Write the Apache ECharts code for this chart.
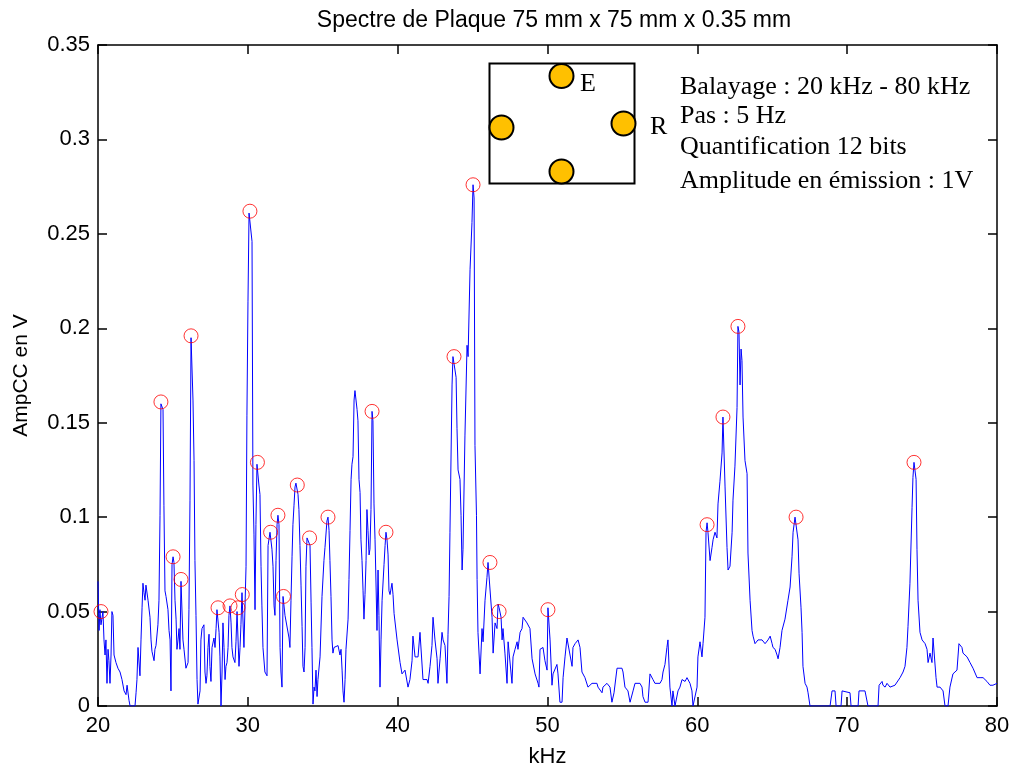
<!DOCTYPE html>
<html><head><meta charset="utf-8">
<script src="https://cdn.jsdelivr.net/npm/echarts@6/dist/echarts.min.js"></script>
<style>html,body{margin:0;padding:0;background:#fff}#c{width:1013px;height:769px}</style>
</head><body><div id="c"></div>
<script>
// ---- data (kHz, V) ----
const freqKHz = [
20.00,20.07,20.13,20.20,20.33,20.40,20.47,20.53,20.60,20.67,20.73,20.80,20.87,20.93,21.00,21.07,21.20,21.33,21.47,21.60,21.74,21.87,21.94,22.07,22.14,22.47,22.54,22.60,22.67,22.74,22.80,22.87,22.94,23.00,23.07,23.14,23.20,23.34,23.47,23.54,23.60,23.74,23.80,23.87,24.00,24.07,24.14,24.20,24.27,24.34,24.40,24.47,24.54,24.67,24.74,24.81,24.87,24.94,25.01,25.07,25.14,25.21,25.27,25.34,25.41,25.47,25.54,25.61,25.67,25.74,25.87,26.01,26.07,26.14,26.21,26.27,26.34,26.41,26.47,26.54,26.61,26.67,26.74,26.81,26.87,26.94,27.07,
27.14,27.21,27.27,27.34,27.41,27.47,27.54,27.61,27.74,27.81,27.88,27.94,28.01,28.08,28.14,28.21,28.28,28.34,28.41,28.48,28.54,28.61,28.68,28.74,28.81,28.88,28.94,29.01,29.14,29.21,29.28,29.34,29.41,29.48,29.54,29.61,29.68,29.74,29.81,29.88,29.94,30.01,30.08,30.14,30.21,30.28,30.34,30.41,30.48,30.54,30.61,30.68,30.74,30.81,30.88,30.94,31.01,31.14,31.28,31.35,31.48,31.55,31.61,31.68,31.75,31.81,31.88,31.95,32.01,32.08,32.15,32.21,32.28,32.35,32.41,32.48,32.61,32.75,32.81,32.88,32.95,33.01,33.08,33.15,33.21,33.28,33.35,33.41,33.48,33.55,33.62,33.68,33.75,33.82,33.88,33.95,34.08,34.15,34.22,34.28,34.35,34.42,
34.48,34.55,34.62,34.68,34.82,34.95,35.08,35.15,35.28,35.35,35.42,35.48,35.55,35.62,35.68,35.75,35.88,36.02,36.15,36.22,36.29,36.35,36.42,36.49,36.55,36.69,36.75,36.82,36.89,36.95,37.02,37.09,37.15,37.22,37.29,37.35,37.42,37.49,37.55,37.62,37.69,37.75,37.82,37.89,37.95,38.02,38.09,38.15,38.22,38.29,38.35,38.42,38.49,38.56,38.62,38.69,38.75,38.82,38.89,38.96,39.09,39.16,39.22,39.29,39.36,39.42,39.49,39.62,39.69,39.76,39.89,39.96,40.16,40.29,40.49,40.69,40.82,40.96,41.02,41.16,41.36,41.49,41.62,41.69,41.96,42.03,
42.16,42.29,42.36,42.49,42.63,42.69,42.83,42.96,43.03,43.16,43.29,43.36,43.43,43.49,43.63,43.69,43.76,43.90,43.96,44.03,44.16,44.23,44.30,44.36,44.49,44.63,44.70,44.83,44.96,45.03,45.10,45.16,45.26,45.30,45.36,45.50,45.63,45.70,45.83,45.96,46.03,46.16,46.30,46.37,46.50,46.63,46.70,46.77,46.90,46.97,47.03,47.16,47.30,47.37,47.50,47.63,47.70,47.83,47.97,48.03,48.17,48.30,48.37,48.63,48.83,48.97,49.17,49.37,
49.43,49.50,49.70,49.83,49.97,50.03,50.17,50.30,50.37,50.63,50.70,50.83,50.97,51.04,51.17,51.30,51.37,51.64,51.70,51.84,52.04,52.17,52.30,52.50,52.70,52.97,53.30,53.37,53.64,53.70,53.97,54.17,54.30,54.44,54.64,54.97,55.04,55.17,55.37,55.51,55.64,55.71,55.84,56.17,56.31,56.37,56.51,56.71,56.84,56.97,57.04,57.17,57.51,57.64,57.71,57.84,57.97,58.04,58.17,58.31,58.37,58.51,58.64,58.71,58.84,58.98,59.04,59.18,59.31,59.38,59.51,59.64,59.71,59.84,59.98,
60.04,60.18,60.31,60.38,60.51,60.58,60.65,60.71,60.85,60.98,61.05,61.18,61.31,61.38,61.51,61.65,61.71,61.85,61.98,62.05,62.18,62.32,62.38,62.51,62.65,62.71,62.78,62.85,62.92,62.98,63.05,63.18,63.32,63.38,63.52,63.65,63.72,63.85,64.05,64.32,64.52,64.72,64.86,64.99,65.05,65.19,65.32,65.39,65.52,65.65,65.85,66.05,66.19,66.32,66.39,66.52,66.59,66.72,66.79,66.92,66.99,67.05,67.19,67.32,67.39,67.52,
68.86,68.99,69.19,69.26,69.59,69.66,70.19,70.26,70.73,70.79,71.19,71.39,72.06,72.13,72.33,72.39,72.53,72.66,72.86,73.19,73.53,73.73,73.86,73.99,74.06,74.19,74.33,74.39,74.46,74.60,74.66,74.73,74.86,75.00,75.20,75.33,75.40,75.53,75.66,75.73,75.86,75.93,76.00,76.20,76.40,76.53,76.73,76.86,77.06,77.33,77.46,77.66,77.73,78.00,78.20,78.40,78.67,78.87,79.07,79.33,79.53,79.73,80.00
];
const ampV = [
.066,.040,.051,.043,.050,.035,.027,.035,.012,.030,.024,.012,.027,.050,.048,.027,.023,.020,.018,.014,.008,.006,.011,.003,0,0,.007,.014,.031,.030,.016,.035,.052,.065,.060,.056,.064,.056,.047,.035,.029,.024,.030,.032,.043,.056,.101,.160,.161,.157,.106,.061,.058,.051,.040,.035,.008,.075,.079,.076,.056,.046,.030,.035,.041,.030,.066,.065,.035,.030,.020,.023,.051,.109,.195,.196,.162,.130,.077,.048,.014,.001,0,.008,.035,.041,.043,
.018,.012,.016,.031,.038,.021,.013,.031,.036,.031,.041,.051,.052,.039,.026,0,.018,.044,.031,.014,.021,.023,.031,.048,.053,.044,.031,.026,.023,.034,.050,.051,.021,.031,.043,.060,.059,.031,.031,.074,.154,.214,.261,.262,.260,.246,.117,.091,.051,.096,.128,.129,.117,.112,.074,.053,.031,.018,.016,.085,.092,.092,.083,.074,.053,.048,.077,.096,.101,.096,.031,.018,.010,.058,.058,.048,.047,.036,.031,.056,.079,.096,.106,.116,.118,.118,.112,.104,.085,.064,.042,.021,.018,.031,.074,.089,.089,.085,.055,.031,.001,.010,
.008,.019,.005,.014,.026,.058,.077,.084,.098,.100,.093,.077,.058,.035,.028,.031,.030,.032,.027,.030,.019,.008,.002,.014,.030,.046,.067,.093,.120,.128,.132,.162,.167,.167,.157,.151,.120,.113,.088,.077,.061,.046,.059,.077,.104,.093,.080,.083,.104,.156,.151,.107,.088,.063,.040,.072,.048,.010,.035,.056,.075,.085,.092,.088,.080,.061,.059,.065,.059,.049,.049,.035,.023,.017,.019,.010,.014,.024,.037,.026,.026,.039,.039,.014,.014,.012,
.021,.032,.047,.035,.025,.012,.025,.039,.035,.032,.012,.038,.058,.092,.170,.185,.185,.174,.147,.125,.120,.101,.072,.083,.143,.191,.185,.231,.256,.276,.269,.138,.101,.067,.039,.017,.041,.034,.056,.068,.076,.076,.047,.028,.044,.041,.054,.052,.047,.035,.041,.028,.012,.034,.034,.012,.026,.030,.034,.030,.039,.041,.047,.044,.041,.025,.017,.012,
.010,.030,.031,.024,.019,.052,.035,.011,.017,.022,.017,.002,.002,.015,.026,.036,.035,.021,.031,.033,.035,.031,.018,.015,.010,.012,.012,.010,.007,.010,.012,.010,.002,.007,.020,.020,.018,.010,.008,.002,.002,.008,.012,.012,.010,.005,.002,.002,.017,.018,.014,.012,.012,.014,.018,.022,.031,.035,.010,0,.008,0,0,.008,.010,.014,.015,.013,.015,.014,.012,.008,0,0,.010,
.026,.034,.026,.033,.047,.092,.097,.092,.077,.084,.088,.092,.089,.107,.119,.134,.153,.116,.084,.072,.074,.092,.109,.127,.158,.201,.198,.170,.189,.183,.153,.130,.123,.081,.056,.040,.037,.033,.035,.035,.033,.035,.037,.033,.031,.030,.027,.025,.031,.040,.046,.056,.063,.079,.092,.100,.100,.088,.070,.052,.039,.021,.012,.010,.007,0,
0,.008,.008,0,0,.008,.007,0,0,.008,.008,0,0,.011,.013,.011,.010,.012,.010,.011,.015,.018,.021,.031,.042,.065,.105,.121,.129,.120,.083,.056,.039,.035,.033,.030,.023,.028,.023,.036,.036,.015,.010,.010,.008,0,0,.010,.017,.019,.033,.031,.028,.026,.023,.020,.015,.015,.015,.013,.011,.011,.012
];
const peakKHz = [20.20,24.20,25.01,25.54,26.21,28.01,28.81,29.34,29.63,30.14,30.64,31.52,32.01,32.38,33.30,34.12,35.35,38.29,39.22,43.76,45.03,46.16,46.77,50.03,60.65,61.71,62.71,66.59,74.46];
const peakV   = [0.050,0.161,0.079,0.067,0.196,0.052,0.053,0.052,0.059,0.262,0.129,0.092,0.101,0.058,0.117,0.089,0.100,0.156,0.092,0.185,0.276,0.076,0.050,0.051,0.096,0.153,0.201,0.100,0.129];
const xRange = [20, 80], xStep = 10;
const yRange = [0, 0.35], yStep = 0.05;
const titleText = 'Spectre de Plaque 75 mm x 75 mm x 0.35 mm';
const xName = 'kHz', yName = 'AmpCC en V';
const infoLines = ['Balayage : 20 kHz - 80 kHz', 'Pas : 5 Hz', 'Quantification 12 bits', 'Amplitude en émission : 1V'];
const sensorLabels = ['E', 'R'];

// ---- chart ----
const chart = echarts.init(document.getElementById('c'), null, {renderer: 'canvas'});
const lineData = freqKHz.map((f, i) => [f, ampV[i]]);
const peakData = peakKHz.map((f, i) => [f, peakV[i]]);
const sans = 'Liberation Sans, Arial, Helvetica, sans-serif';
const serif = 'Liberation Serif, Times New Roman, serif';
const axCommon = {
  type: 'value', min: xRange[0], max: xRange[1], interval: xStep,
  axisLine: {show: true, onZero: false, lineStyle: {color: '#000', width: 1.5}},
  axisTick: {show: true, inside: true, length: 9, lineStyle: {color: '#000', width: 1.5}},
  splitLine: {show: false}
};
const yCommon = {
  type: 'value', min: yRange[0], max: yRange[1], interval: yStep,
  axisLine: {show: true, onZero: false, lineStyle: {color: '#000', width: 1.5}},
  axisTick: {show: true, inside: true, length: 9, lineStyle: {color: '#000', width: 1.5}},
  splitLine: {show: false}
};
const circ = (cx, cy) => ({type: 'circle', silent: true, shape: {cx: cx, cy: cy, r: 12},
  style: {fill: '#FFC000', stroke: '#000', lineWidth: 2}, z: 10});
const graphics = [
  {type: 'rect', silent: true, shape: {x: 489.5, y: 63.5, width: 145, height: 120}, style: {fill: '#fff', stroke: '#000', lineWidth: 2}, z: 9},
  circ(561.5, 76), circ(501.5, 127.5), circ(623.5, 123.5), circ(561.5, 171.5),
  {type: 'text', silent: true, z: 11, x: 580, y: 84, style: {text: sensorLabels[0], fill: '#000', font: '26px ' + serif, verticalAlign: 'middle'}},
  {type: 'text', silent: true, z: 11, x: 650, y: 127, style: {text: sensorLabels[1], fill: '#000', font: '26px ' + serif, verticalAlign: 'middle'}}
];
const lineY = [87, 116, 147, 181];
infoLines.forEach((s, i) => graphics.push({type: 'text', silent: true, z: 11, x: 680, y: lineY[i],
  style: {text: s, fill: '#000', font: '26px ' + serif, verticalAlign: 'middle'}}));

chart.setOption({
  animation: false,
  backgroundColor: '#fff',
  title: {text: titleText, left: 549, top: 4, textAlign: 'center',
    textStyle: {fontFamily: sans, fontSize: 23, fontWeight: 'normal', color: '#000'}},
  grid: {left: 98, right: 16, top: 45, bottom: 63, containLabel: false, outerBoundsMode: 'none'},
  xAxis: [
    Object.assign({}, axCommon, {position: 'bottom', name: xName, nameLocation: 'middle', nameGap: 40,
      nameTextStyle: {fontFamily: sans, fontSize: 22, color: '#000'},
      axisLabel: {show: true, color: '#000', fontFamily: sans, fontSize: 22, margin: 9}}),
    Object.assign({}, axCommon, {position: 'top', axisLabel: {show: false}})
  ],
  yAxis: [
    Object.assign({}, yCommon, {position: 'left', name: yName, nameLocation: 'middle', nameGap: 66,
      nameTextStyle: {fontFamily: sans, fontSize: 21, color: '#000'},
      axisLabel: {show: true, color: '#000', fontFamily: sans, fontSize: 22, margin: 8,
        formatter: v => String(parseFloat(v.toFixed(2)))}}),
    Object.assign({}, yCommon, {position: 'right', axisLabel: {show: false}})
  ],
  graphic: graphics,
  series: [
    {type: 'line', data: lineData, xAxisIndex: 0, yAxisIndex: 0, showSymbol: false, symbol: 'none',
      lineStyle: {color: '#0000ff', width: 1}, itemStyle: {color: '#0000ff'}, z: 2},
    {type: 'scatter', data: peakData, xAxisIndex: 0, yAxisIndex: 0, symbol: 'circle', symbolSize: 14,
      itemStyle: {color: 'rgba(0,0,0,0)', borderColor: '#ff0000', borderWidth: 1}, z: 3}
  ]
});
</script>
</body></html>
